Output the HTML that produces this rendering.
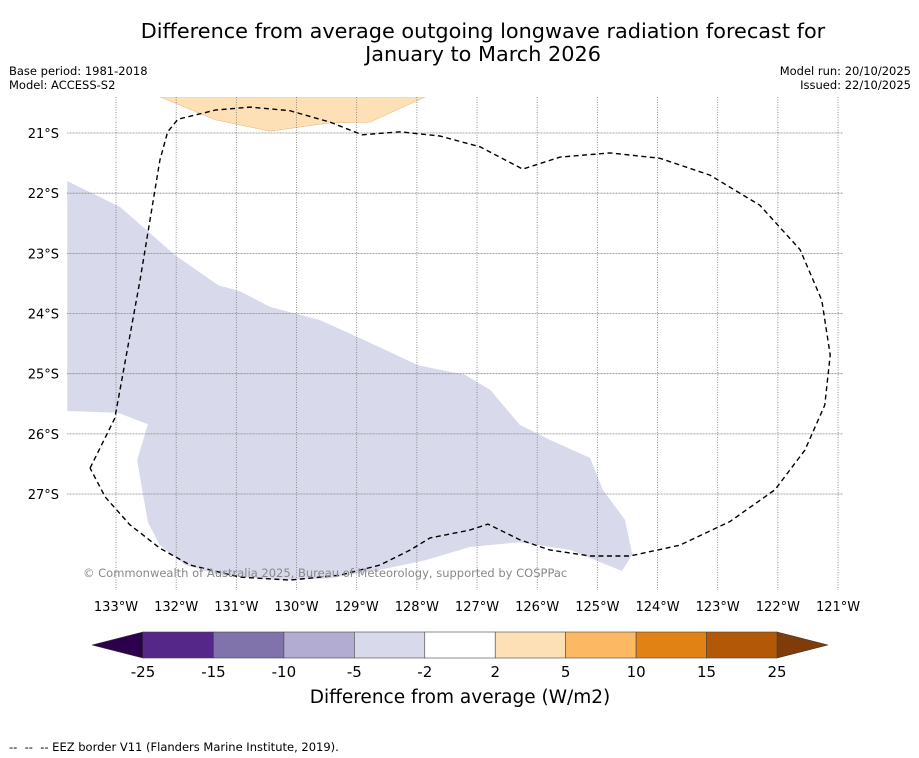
<!DOCTYPE html>
<html><head><meta charset="utf-8"><style>
body{margin:0;background:#fff;font-family:"DejaVu Sans","Liberation Sans",sans-serif}
svg{display:block}
</style></head><body>
<svg id="c" width="919" height="758" xmlns="http://www.w3.org/2000/svg" font-family="DejaVu Sans, Liberation Sans, sans-serif">
<text x="483" y="38" font-size="20.8" text-anchor="middle">Difference from average outgoing longwave radiation forecast for</text>
<text x="483" y="61" font-size="20.8" text-anchor="middle">January to March 2026</text>
<text x="9" y="75" font-size="11.5">Base period: 1981-2018</text>
<text x="9" y="89" font-size="11.5">Model: ACCESS-S2</text>
<text x="911" y="75" font-size="11.5" text-anchor="end">Model run: 20/10/2025</text>
<text x="911" y="89" font-size="11.5" text-anchor="end">Issued: 22/10/2025</text>
<defs><clipPath id="mc"><rect x="67" y="97" width="776" height="493"/></clipPath></defs>
<g id="map" clip-path="url(#mc)"></g>
<g id="axes"></g>
<text x="83" y="577" font-size="11.5" fill="#888">© Commonwealth of Australia 2025, Bureau of Meteorology, supported by COSPPac</text>
<g id="cbar"></g>
<text x="460" y="703" font-size="18.5" text-anchor="middle">Difference from average (W/m2)</text>
<text x="9" y="751" font-size="11.5" xml:space="preserve">--  --  -- EEZ border V11 (Flanders Marine Institute, 2019).</text>
</svg>
<script>
const lonTicks=[133,132,131,130,129,128,127,126,125,124,123,122,121];
const latTicks=[21,22,23,24,25,26,27];
const purpleLon=[133.81,132.93,132.02,131.30,130.94,130.44,129.61,128.94,127.98,127.20,126.78,126.29,125.79,125.12,124.91,124.54,124.42,124.59,125.45,126.29,127.12,127.86,128.61,129.44,130.27,131.27,131.85,132.27,132.47,132.65,132.47,132.97,133.81];
const purpleLat=[21.80,22.23,23.03,23.53,23.63,23.89,24.11,24.41,24.86,25.02,25.27,25.85,26.10,26.40,26.93,27.43,28.01,28.28,27.93,27.80,27.88,28.10,28.26,28.40,28.43,28.35,28.18,27.85,27.47,26.44,25.84,25.65,25.62];
const orangeLon=[132.27,131.35,130.44,129.44,128.78,127.86];
const orangeLat=[20.40,20.78,20.97,20.83,20.82,20.40];
const eezLon=[133.43,133.02,132.60,132.27,132.14,131.97,131.35,130.77,130.11,129.44,128.91,128.28,127.62,126.95,126.24,125.62,124.79,123.96,123.13,122.30,121.63,121.27,121.13,121.22,121.55,122.05,122.80,123.63,124.46,125.12,125.79,126.29,126.82,127.12,127.78,128.11,128.61,129.28,130.11,130.94,131.77,132.27,132.77,133.18,133.43];
const eezLat=[26.57,25.74,23.44,21.45,20.98,20.77,20.62,20.57,20.63,20.82,21.03,20.98,21.05,21.23,21.60,21.40,21.33,21.42,21.70,22.20,22.94,23.78,24.69,25.52,26.27,26.93,27.46,27.85,28.03,28.03,27.93,27.76,27.50,27.60,27.73,27.93,28.18,28.35,28.43,28.38,28.18,27.90,27.51,27.05,26.57];
const cbLabels=["-25","-15","-10","-5","-2","2","5","10","15","25"];
const cbColors=["#542788","#8073ac","#b2abd2","#d8daeb","#ffffff","#fee0b6","#fdb863","#e08214","#b35806"];
const NS="http://www.w3.org/2000/svg";
const K=60.17;
function X(lon){return 116+(133-lon)*K;}
function Y(lat){return 133+(lat-21)*K;}
function mk(t,a,p){const e=document.createElementNS(NS,t);for(const k in a)e.setAttribute(k,a[k]);p.appendChild(e);return e;}
function pts(lo,la){return lo.map((v,i)=>X(v).toFixed(1)+","+Y(la[i]).toFixed(1)).join(" ");}
const map=document.getElementById('map'),ax=document.getElementById('axes'),cb=document.getElementById('cbar');
let e;
e=mk('polygon',{points:pts(purpleLon,purpleLat),fill:'#d8daeb'},map);


e=mk('polygon',{points:pts(orangeLon,orangeLat),fill:'#fee0b6',stroke:'#e8b070','stroke-width':0.5},map);


lonTicks.forEach(l=>{
 e=mk('line',{x1:X(l),x2:X(l),y1:97,y2:590,stroke:'#777','stroke-width':0.8,'stroke-dasharray':'1,1.5'},map);
 
 
 e=mk('text',{x:X(l),y:611,'font-size':13,'text-anchor':'middle'},ax);e.textContent=l+'°W';
 
 
});
latTicks.forEach(l=>{
 e=mk('line',{x1:67,x2:843,y1:Y(l),y2:Y(l),stroke:'#888','stroke-width':0.8,'stroke-dasharray':'1,0.5'},map);
 
 
 e=mk('text',{x:59,y:Y(l)+5,'font-size':13,'text-anchor':'end'},ax);e.textContent=l+'°S';
 
 
});
e=mk('polyline',{points:pts(eezLon,eezLat),fill:'none',stroke:'#000','stroke-width':1.4,'stroke-dasharray':'5,3.5'},map);


const cx0=143,cx1=777,cy=632,ch=26,w=(cx1-cx0)/cbColors.length;
e=mk('polygon',{points:`${cx0},${cy} ${92},${cy+ch/2} ${cx0},${cy+ch}`,fill:'#2d004b',stroke:'#333','stroke-width':0.6},cb);


e=mk('polygon',{points:`${cx1},${cy} ${828},${cy+ch/2} ${cx1},${cy+ch}`,fill:'#7f3b08',stroke:'#333','stroke-width':0.6},cb);


cbColors.forEach((c,i)=>{
 e=mk('rect',{x:cx0+i*w,y:cy,width:w,height:ch,fill:c,stroke:'#444','stroke-width':0.6},cb);
 
 
});
cbLabels.forEach((s,i)=>{
 e=mk('text',{x:cx0+i*w,y:677,'font-size':15,'text-anchor':'middle'},cb);e.textContent=s;
 
 
});
</script>
</body></html>
